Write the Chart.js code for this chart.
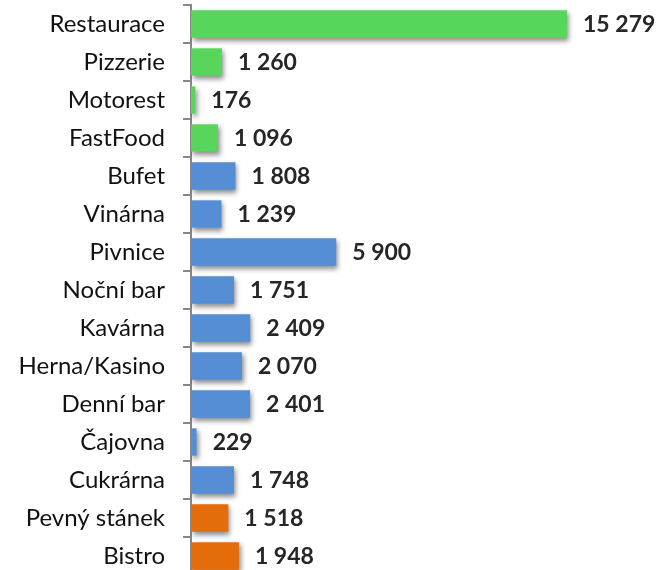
<!DOCTYPE html>
<html>
<head>
<meta charset="utf-8">
<script src="https://cdn.jsdelivr.net/npm/chart.js@4.4.1/dist/chart.umd.min.js"></script>
<style>
html,body{margin:0;padding:0;background:#fff;overflow:hidden;}
#wrap{width:657px;height:580px;}
</style>
</head>
<body>
<div id="wrap"><canvas id="c" width="657" height="580"></canvas></div>
<script>
const categories = ["Restaurace","Pizzerie","Motorest","FastFood","Bufet","Vinárna","Pivnice","Noční bar","Kavárna","Herna/Kasino","Denní bar","Čajovna","Cukrárna","Pevný stánek","Bistro"];
const values = [15279,1260,176,1096,1808,1239,5900,1751,2409,2070,2401,229,1748,1518,1948];
const groups = ["g","g","g","g","b","b","b","b","b","b","b","b","b","o","o"];
const groupColors = {g:"#57D65B", b:"#558ED5", o:"#E46C0A"};

function fmt(n){ return String(n).replace(/\B(?=(\d{3})+(?!\d))/g, " "); }

const shadowPlugin = {
  id:"shadow",
  beforeDatasetsDraw(chart){
    const ctx = chart.ctx;
    ctx.save();
    ctx.shadowColor = "rgba(0,0,0,0.45)";
    ctx.shadowBlur = 5;
    ctx.shadowOffsetX = 2;
    ctx.shadowOffsetY = 3;
  },
  afterDatasetsDraw(chart){
    chart.ctx.restore();
  }
};

const labelPlugin = {
  id:"vlabels",
  afterDraw(chart){
    const ctx = chart.ctx;
    const meta = chart.getDatasetMeta(0);
    ctx.save();
    ctx.font = "bold 23px Lato, 'Open Sans', sans-serif";
    ctx.fillStyle = "#262626";
    ctx.textAlign = "left";
    ctx.textBaseline = "middle";
    meta.data.forEach((bar,i)=>{
      ctx.fillText(fmt(values[i]), bar.x + 16, bar.y + 1);
    });
    ctx.restore();
  }
};

new Chart(document.getElementById("c"), {
  type:"bar",
  data:{
    labels:categories,
    datasets:[{
      data:values,
      backgroundColor:groups.map(g=>groupColors[g]),
      borderWidth:0,
      categoryPercentage:1,
      barPercentage:0.72
    }]
  },
  options:{
    indexAxis:"y",
    responsive:false,
    animation:false,
    layout:{padding:{top:5,bottom:5,left:0,right:23}},
    plugins:{legend:{display:false},tooltip:{enabled:false}},
    scales:{
      x:{display:false,min:0,max:18000},
      y:{
        afterFit(scale){ scale.width = 191; scale.paddingTop = 0; scale.paddingBottom = 0; },
        grid:{display:true,drawOnChartArea:false,drawTicks:true,tickLength:8,color:"#868686",lineWidth:2,offset:true},
        border:{display:true,color:"#868686",width:2},
        ticks:{color:"#111",font:{family:"Lato, 'Open Sans', sans-serif",size:24},padding:18}
      }
    }
  },
  plugins:[shadowPlugin,labelPlugin]
});
</script>
</body>
</html>
